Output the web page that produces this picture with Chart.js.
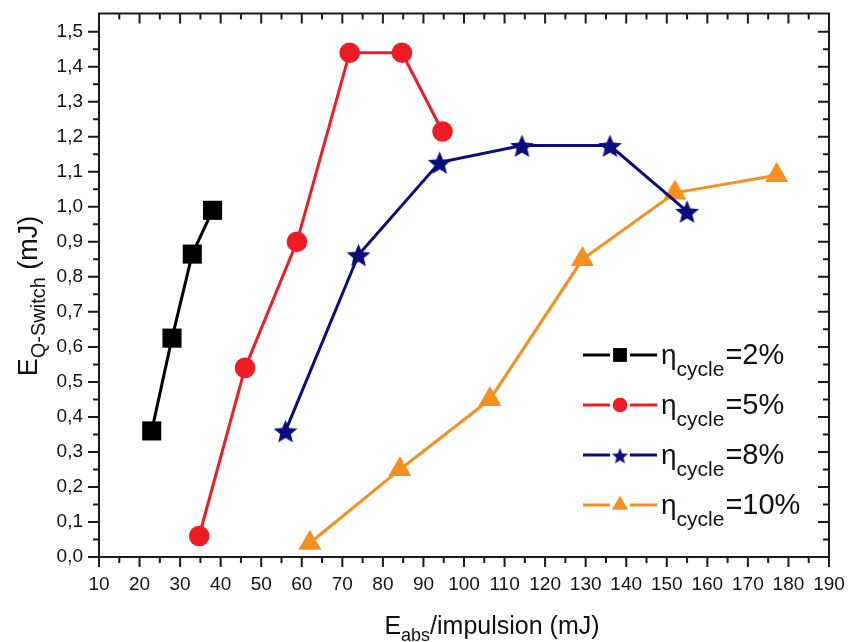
<!DOCTYPE html>
<html><head><meta charset="utf-8">
<script src="https://cdn.jsdelivr.net/npm/chart.js@4.4.1/dist/chart.umd.min.js"></script>
<style>html,body{margin:0;padding:0;background:#fff;}#wrap{width:848px;height:642px;}</style>
</head><body><div id="wrap"><canvas id="c" width="848" height="642"></canvas></div>
<script>
// ---- data ----
const xTickLabels = ['10','20','30','40','50','60','70','80','90','100','110','120','130','140','150','160','170','180','190'];
const yTickLabels = ['0,0','0,1','0,2','0,3','0,4','0,5','0,6','0,7','0,8','0,9','1,0','1,1','1,2','1,3','1,4','1,5'];
const seriesPct = ['=2%','=5%','=8%','=10%'];
const x2  = [23, 28, 33, 38];
const y2  = [0.36, 0.625, 0.865, 0.99];
const x5  = [34.7, 46, 58.8, 71.8, 84.7, 94.7];
const y5  = [0.06, 0.54, 0.90, 1.44, 1.44, 1.215];
const x8  = [56, 74, 94, 114.3, 136, 155];
const y8  = [0.36, 0.863, 1.127, 1.175, 1.175, 0.987];
const x10 = [62, 84.2, 106.4, 129.2, 152, 177.1];
const y10 = [0.04, 0.25, 0.45, 0.85, 1.04, 1.09];

const xTickValues = xTickLabels.map(Number);
const yTickValues = yTickLabels.map(s => parseFloat(s.replace(',', '.')));
const pts = (xs, ys) => xs.map((x, i) => ({x: x, y: ys[i]}));

const COLORS = ['#000000', '#ee1c24', '#0c0c80', '#f5901e'];
const FONT = '"Liberation Sans", Arial, sans-serif';

function makeStar(R, r, color) {
  const size = Math.ceil(R * 2 + 2);
  const c = document.createElement('canvas');
  c.width = c.height = size;
  const g = c.getContext('2d');
  g.fillStyle = color;
  g.beginPath();
  for (let i = 0; i < 10; i++) {
    const rr = i % 2 ? r : R;
    const a = -Math.PI / 2 + i * Math.PI / 5;
    g.lineTo(size / 2 + rr * Math.cos(a), size / 2 + 1.5 + rr * Math.sin(a));
  }
  g.closePath(); g.fill();
  return c;
}
const starBig = makeStar(12.5, 5.6, COLORS[2]);
const starSmall = makeStar(8.5, 3.8, COLORS[2]);

const styles = [
  {ps: 'rect', r: 13.5, lr: 9.5},
  {ps: 'circle', r: 10.3, lr: 7.2},
  {ps: starBig, r: 12, lr: 0},
  {ps: 'triangle', r: 13.3, lr: 9}
];

function ds(data, i) {
  return {
    data: data, showLine: true, borderColor: COLORS[i], backgroundColor: COLORS[i],
    borderWidth: 3, pointStyle: styles[i].ps, pointRadius: styles[i].r, pointHoverRadius: styles[i].r,
    pointBorderWidth: 0, pointBackgroundColor: COLORS[i], pointBorderColor: COLORS[i],
    clip: false, tension: 0
  };
}

const decor = {
  id: 'decor',
  afterDraw(chart) {
    const ctx = chart.ctx, a = chart.chartArea, xs = chart.scales.x, ys = chart.scales.y;
    ctx.save();
    ctx.strokeStyle = '#1a1a1a'; ctx.lineWidth = 2; ctx.lineCap = 'butt';
    ctx.strokeRect(a.left, a.top, a.right - a.left, a.bottom - a.top);
    ctx.beginPath();
    xTickValues.forEach((v, i) => {
      const px = xs.getPixelForValue(v);
      ctx.moveTo(px, a.bottom); ctx.lineTo(px, a.bottom + 10);
      ctx.moveTo(px, a.top); ctx.lineTo(px, a.top + 10);
      if (i < xTickValues.length - 1) {
        const m = xs.getPixelForValue((v + xTickValues[i + 1]) / 2);
        ctx.moveTo(m, a.bottom); ctx.lineTo(m, a.bottom + 6);
        ctx.moveTo(m, a.top); ctx.lineTo(m, a.top + 6);
      }
    });
    yTickValues.forEach((v, i) => {
      const py = ys.getPixelForValue(v);
      ctx.moveTo(a.left, py); ctx.lineTo(a.left - 11, py);
      ctx.moveTo(a.right, py); ctx.lineTo(a.right - 11, py);
      if (i < yTickValues.length - 1) {
        const m = ys.getPixelForValue((v + yTickValues[i + 1]) / 2);
        ctx.moveTo(a.left, m); ctx.lineTo(a.left - 6, m);
        ctx.moveTo(a.right, m); ctx.lineTo(a.right - 6, m);
      }
    });
    ctx.stroke();

    // legend
    ctx.textAlign = 'left'; ctx.textBaseline = 'alphabetic';
    for (let i = 0; i < 4; i++) {
      const y = 355 + 50 * i;
      ctx.strokeStyle = COLORS[i]; ctx.fillStyle = COLORS[i]; ctx.lineWidth = 3;
      ctx.beginPath();
      ctx.moveTo(583, y); ctx.lineTo(610, y);
      ctx.moveTo(630, y); ctx.lineTo(657, y);
      ctx.stroke();
      if (i === 2) {
        ctx.drawImage(starSmall, 620 - starSmall.width / 2, y - starSmall.height / 2);
      } else {
        Chart.helpers.drawPoint(ctx, {pointStyle: styles[i].ps, radius: styles[i].lr, rotation: 0, borderWidth: 0}, 620, y);
        ctx.fill();
      }
      ctx.fillStyle = '#111';
      let x = 661;
      ctx.font = '28px ' + FONT;
      ctx.fillText('η', x, y + 9);
      x += ctx.measureText('η').width;
      ctx.font = '21px ' + FONT;
      ctx.fillText('cycle', x, y + 21);
      x += ctx.measureText('cycle').width + 1;
      ctx.font = '29px ' + FONT;
      ctx.fillText(seriesPct[i], x, y + 9);
    }

    // x title
    ctx.fillStyle = '#111';
    let mainF = '25px ' + FONT, subF = '18px ' + FONT;
    ctx.font = mainF; const wE = ctx.measureText('E').width; const wRest = ctx.measureText('/impulsion (mJ)').width;
    ctx.font = subF; const wSub = ctx.measureText('abs').width;
    let tx = 492 - (wE + wSub + wRest) / 2;
    const by = 634;
    ctx.font = mainF; ctx.fillText('E', tx, by); tx += wE;
    ctx.font = subF; ctx.fillText('abs', tx, by + 7); tx += wSub;
    ctx.font = mainF; ctx.fillText('/impulsion (mJ)', tx, by);

    // y title
    mainF = '27px ' + FONT; subF = '20px ' + FONT;
    ctx.save();
    ctx.translate(37, 296);
    ctx.rotate(-Math.PI / 2);
    ctx.font = mainF; const yE = ctx.measureText('E').width; const yR = ctx.measureText(' (mJ)').width;
    ctx.font = subF; const yS = ctx.measureText('Q-Switch').width;
    let ty = -(yE + yS + yR) / 2;
    ctx.font = mainF; ctx.fillText('E', ty, 0); ty += yE;
    ctx.font = subF; ctx.fillText('Q-Switch', ty, 8); ty += yS;
    ctx.font = mainF; ctx.fillText(' (mJ)', ty, 0);
    ctx.restore();
    ctx.restore();
  }
};

new Chart(document.getElementById('c'), {
  type: 'scatter',
  data: { datasets: [ds(pts(x2, y2), 0), ds(pts(x5, y5), 1), ds(pts(x8, y8), 2), ds(pts(x10, y10), 3)] },
  options: {
    responsive: false, animation: false, devicePixelRatio: 1,
    layout: { padding: { top: 13, right: 19, left: 0, bottom: 0 } },
    plugins: { legend: { display: false }, tooltip: { enabled: false } },
    scales: {
      x: {
        type: 'linear', min: 10, max: 190,
        afterBuildTicks: s => { s.ticks = xTickValues.map(v => ({value: v})); },
        afterFit: s => { s.height = 85; s.paddingLeft = 0; s.paddingRight = 0; },
        grid: { display: false, drawTicks: false }, border: { display: false },
        ticks: { autoSkip: false, maxRotation: 0, padding: 16, color: '#111', font: { family: FONT, size: 19 },
          callback: (v, i) => xTickLabels[i] }
      },
      y: {
        type: 'linear', min: 0, max: 1.552,
        afterBuildTicks: s => { s.ticks = yTickValues.map(v => ({value: v})); },
        afterFit: s => { s.width = 99; s.paddingTop = 0; s.paddingBottom = 0; },
        grid: { display: false, drawTicks: false }, border: { display: false },
        ticks: { autoSkip: false, padding: 16, color: '#111', font: { family: FONT, size: 19 },
          callback: (v, i) => yTickLabels[i] }
      }
    }
  },
  plugins: [decor]
});
</script></body></html>
